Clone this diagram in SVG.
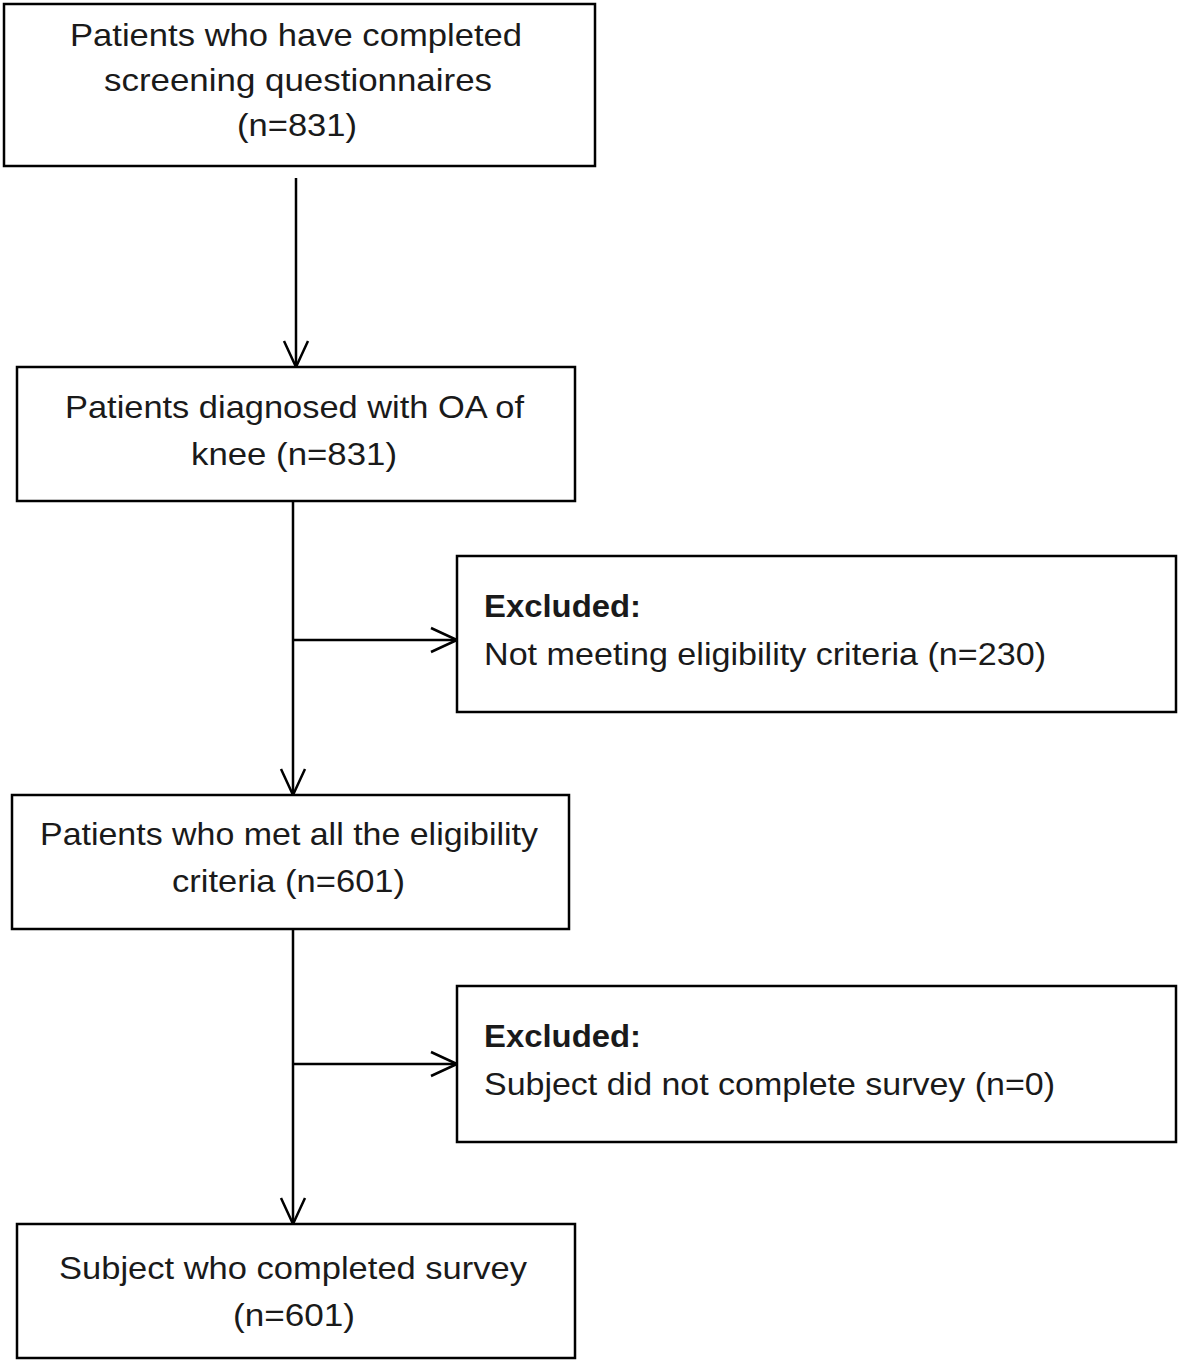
<svg xmlns="http://www.w3.org/2000/svg" width="1181" height="1364" viewBox="0 0 1181 1364">
<style>
.box{fill:#fff;stroke:#000;stroke-width:2.5}
.t{font-family:"Liberation Sans",Arial,sans-serif;font-size:32px;fill:#1a1a1a}
.c{text-anchor:middle}
.b{font-weight:bold}
.ln{stroke:#000;stroke-width:2.5;fill:none}
</style>
<defs>
<marker id="ah" markerWidth="30" markerHeight="30" refX="28" refY="15" orient="auto" markerUnits="userSpaceOnUse">
<path d="M2,3 L28,15 L2,27" fill="none" stroke="#000" stroke-width="2.5"/>
</marker>
</defs>
<rect width="1181" height="1364" fill="#fff"/>
<g id="connectors">
<line class="ln" x1="296" y1="178" x2="296" y2="367" marker-end="url(#ah)"/>
<line class="ln" x1="293" y1="501" x2="293" y2="795" marker-end="url(#ah)"/>
<line class="ln" x1="293" y1="640" x2="457" y2="640" marker-end="url(#ah)"/>
<line class="ln" x1="293" y1="929" x2="293" y2="1224" marker-end="url(#ah)"/>
<line class="ln" x1="293" y1="1064" x2="457" y2="1064" marker-end="url(#ah)"/>
</g>
<g id="n1">
<rect class="box" x="4" y="4" width="591" height="162"/>
<text class="t c" x="296" y="46" textLength="452" lengthAdjust="spacingAndGlyphs">Patients who have completed</text>
<text class="t c" x="298" y="91" textLength="388" lengthAdjust="spacingAndGlyphs">screening questionnaires</text>
<text class="t c" x="297" y="136" textLength="120" lengthAdjust="spacingAndGlyphs">(n=831)</text>
</g>
<g id="n2">
<rect class="box" x="17" y="367" width="558" height="134"/>
<text class="t c" x="294.5" y="418" textLength="459" lengthAdjust="spacingAndGlyphs">Patients diagnosed with OA of</text>
<text class="t c" x="294" y="465" textLength="206" lengthAdjust="spacingAndGlyphs">knee (n=831)</text>
</g>
<g id="n3">
<rect class="box" x="457" y="556" width="719" height="156"/>
<text class="t b" x="484" y="617" textLength="157" lengthAdjust="spacingAndGlyphs">Excluded:</text>
<text class="t" x="484" y="665" textLength="562" lengthAdjust="spacingAndGlyphs">Not meeting eligibility criteria (n=230)</text>
</g>
<g id="n4">
<rect class="box" x="12" y="795" width="557" height="134"/>
<text class="t c" x="289" y="845" textLength="498" lengthAdjust="spacingAndGlyphs">Patients who met all the eligibility</text>
<text class="t c" x="288.5" y="892" textLength="233" lengthAdjust="spacingAndGlyphs">criteria (n=601)</text>
</g>
<g id="n5">
<rect class="box" x="457" y="986" width="719" height="156"/>
<text class="t b" x="484" y="1047" textLength="157" lengthAdjust="spacingAndGlyphs">Excluded:</text>
<text class="t" x="484" y="1095" textLength="571" lengthAdjust="spacingAndGlyphs">Subject did not complete survey (n=0)</text>
</g>
<g id="n6">
<rect class="box" x="17" y="1224" width="558" height="134"/>
<text class="t c" x="293" y="1279" textLength="468" lengthAdjust="spacingAndGlyphs">Subject who completed survey</text>
<text class="t c" x="294" y="1326" textLength="122" lengthAdjust="spacingAndGlyphs">(n=601)</text>
</g>
</svg>
